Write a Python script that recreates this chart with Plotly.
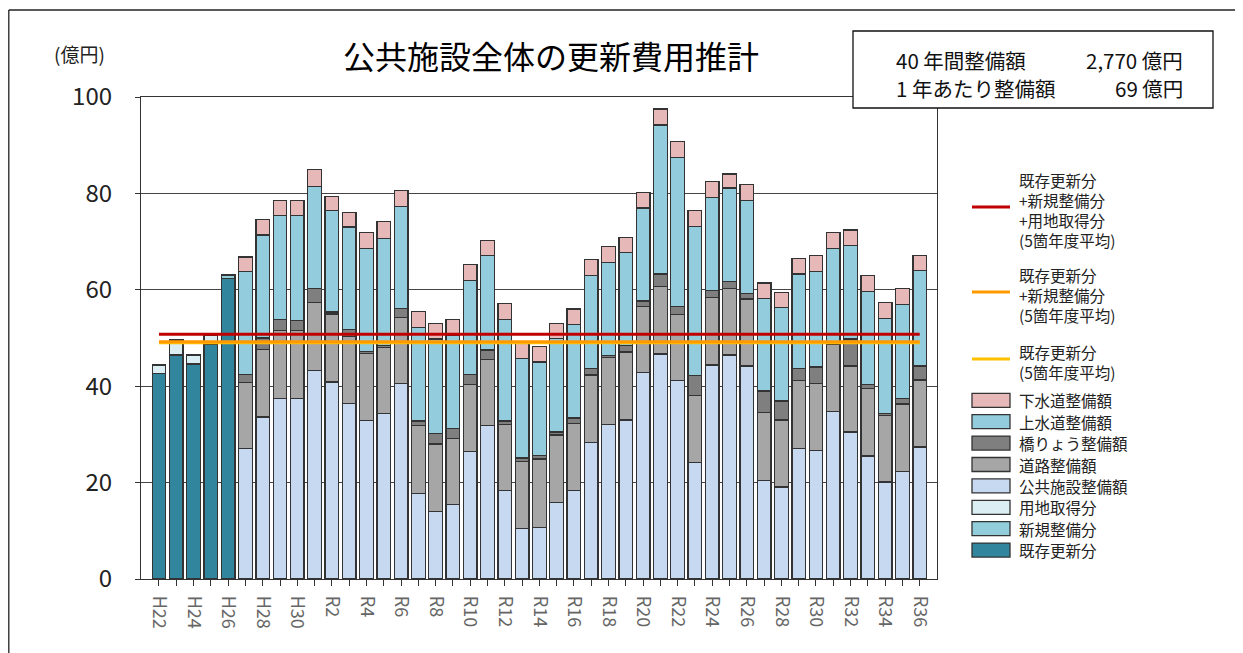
import plotly.graph_objects as go

# ---------------- data ----------------
categories = ["H22", "H23", "H24", "H25", "H26", "H27", "H28", "H29", "H30", "R1",
              "R2", "R3", "R4", "R5", "R6", "R7", "R8", "R9", "R10", "R11",
              "R12", "R13", "R14", "R15", "R16", "R17", "R18", "R19", "R20", "R21",
              "R22", "R23", "R24", "R25", "R26", "R27", "R28", "R29", "R30", "R31",
              "R32", "R33", "R34", "R35", "R36"]
tick_labels = [c if i % 2 == 0 else "" for i, c in enumerate(categories)]

N = None
existing = [42.6, 46.5, 44.6, 48.7, 62.4] + [N] * 40           # 既存更新分
new_build = [N, N, N, N, 0.7] + [N] * 40                         # 新規整備分
land = [1.8, 3.1, 1.9, 1.8, N] + [N] * 40                        # 用地取得分
public_fac = [N] * 5 + [27.1, 33.6, 37.4, 37.4, 43.3, 40.9, 36.4, 32.9, 34.3, 40.6,
                        17.7, 14.0, 15.4, 26.4, 31.8, 18.3, 10.5, 10.7, 15.9, 18.3,
                        28.3, 32.0, 33.0, 42.8, 46.7, 41.2, 24.2, 44.4, 46.5, 44.2,
                        20.4, 19.1, 27.1, 26.7, 34.8, 30.5, 25.5, 20.1, 22.3, 27.4]   # 公共施設整備額
road = [N] * 5 + [13.7, 14.0, 14.1, 14.1, 14.1, 14.1, 13.9, 13.9, 13.7, 13.7,
                  14.1, 14.0, 13.7, 14.0, 13.7, 13.8, 13.9, 14.2, 14.0, 14.0,
                  14.0, 14.0, 14.1, 13.8, 14.0, 13.7, 13.8, 14.0, 13.7, 13.9,
                  14.1, 13.9, 14.1, 13.9, 13.9, 13.7, 14.0, 13.8, 14.0, 13.9]        # 道路整備額
bridge = [N] * 5 + [1.7, 2.4, 2.4, 2.2, 2.9, 0.4, 1.4, 0.4, 0.5, 1.8,
                    1.0, 2.2, 2.1, 2.1, 2.0, 0.7, 0.7, 0.7, 0.6, 1.1,
                    1.4, 0.3, 1.4, 1.1, 2.6, 1.7, 4.2, 1.4, 1.5, 1.2,
                    4.5, 3.9, 2.5, 3.4, 0.2, 5.6, 0.8, 0.4, 1.2, 2.9]              # 橋りょう整備額
water = [N] * 5 + [21.3, 21.4, 21.5, 21.7, 21.2, 21.0, 21.3, 21.4, 22.2, 21.2,
                   19.4, 19.6, 19.3, 19.4, 19.6, 21.1, 20.7, 19.4, 19.4, 19.4,
                   19.3, 19.4, 19.3, 19.3, 30.9, 30.9, 31.0, 19.4, 19.4, 19.3,
                   19.2, 19.4, 19.6, 19.8, 19.7, 19.4, 19.4, 19.8, 19.5, 19.8]      # 上水道整備額
sewer = [N] * 5 + [3.0, 3.2, 3.2, 3.2, 3.4, 3.0, 3.1, 3.3, 3.4, 3.3,
                   3.3, 3.2, 3.4, 3.4, 3.2, 3.2, 3.1, 3.2, 3.1, 3.2,
                   3.3, 3.3, 3.1, 3.2, 3.3, 3.2, 3.2, 3.2, 2.9, 3.2,
                   3.2, 3.2, 3.2, 3.3, 3.3, 3.2, 3.3, 3.3, 3.3, 3.1]               # 下水道整備額

avg_all = 50.8       # 既存更新分+新規整備分+用地取得分 (5箇年度平均)
avg_exist_new = 49.2 # 既存更新分+新規整備分 (5箇年度平均)
avg_exist = 49.0     # 既存更新分 (5箇年度平均)

# stacking order bottom -> top
bar_series = [
    ("既存更新分", existing, "#31859C"),
    ("新規整備分", new_build, "#92CDDC"),
    ("用地取得分", land, "#DAEEF3"),
    ("公共施設整備額", public_fac, "#C6D9F1"),
    ("道路整備額", road, "#A6A6A6"),
    ("橋りょう整備額", bridge, "#7F7F7F"),
    ("上水道整備額", water, "#93CDDD"),
    ("下水道整備額", sewer, "#E6B9B8"),
]
line_series = [
    (["既存更新分", "+新規整備分", "+用地取得分", "(5箇年度平均)"], avg_all, "#C00000"),
    (["既存更新分", "+新規整備分", "(5箇年度平均)"], avg_exist_new, "#FF9900"),
    (["既存更新分", "(5箇年度平均)"], avg_exist, "#FFC000"),
]

FONT = "Noto Sans CJK JP"
OFF = 8                       # page body margin offset
W, H = 1243 - OFF, 653 - OFF
L, R, T, B = 141, 937, 97, 579   # plot area in page pixels


def px(x):
    return (x - L) / (R - L)


def py(y):
    return (B - y) / (B - T)


fig = go.Figure()
for name, vals, col in bar_series:
    fig.add_trace(go.Bar(x=categories, y=vals, name=name, marker_color=col,
                         marker_line=dict(color="#333333", width=1.3), showlegend=False))

# draw yellow first, then orange, then red
for lines, val, col in reversed(line_series):
    fig.add_trace(go.Scatter(x=categories, y=[val] * len(categories), mode="lines",
                             line=dict(color=col, width=3), showlegend=False, hoverinfo="skip"))

shapes = []
annotations = []

# outer frame (left + top)
shapes.append(dict(type="line", xref="paper", yref="paper", x0=px(8.8), x1=px(8.8), y0=py(10), y1=py(653),
                   line=dict(color="#222", width=1.3)))
shapes.append(dict(type="line", xref="paper", yref="paper", x0=px(8.8), x1=px(1243), y0=py(10), y1=py(10),
                   line=dict(color="#222", width=1.3)))

# summary box
shapes.append(dict(type="rect", xref="paper", yref="paper", x0=px(853), x1=px(1213), y0=py(31), y1=py(108),
                   line=dict(color="#111", width=1.3), fillcolor="white", layer="above"))
box_rows = [("40 年間整備額", "2,770 億円", 60), ("1 年あたり整備額", "69 億円", 88)]
for left_t, right_t, yy in box_rows:
    annotations.append(dict(xref="paper", yref="paper", x=px(894), y=py(yy), text=left_t, showarrow=False,
                            xanchor="left", yanchor="middle", font=dict(family=FONT, size=20.5, color="#111")))
    annotations.append(dict(xref="paper", yref="paper", x=px(1185), y=py(yy), text=right_t, showarrow=False,
                            xanchor="right", yanchor="middle", font=dict(family=FONT, size=20.5, color="#111")))

# title and unit
annotations.append(dict(xref="paper", yref="paper", x=px(551), y=py(55), text="公共施設全体の更新費用推計",
                        showarrow=False, xanchor="center", yanchor="middle",
                        font=dict(family=FONT, size=32, color="#000")))
annotations.append(dict(xref="paper", yref="paper", x=px(52), y=py(53), text="(億円)",
                        showarrow=False, xanchor="left", yanchor="middle",
                        font=dict(family=FONT, size=19, color="#222")))

# custom legend: line entries (multi-line text)
line_centers = [210, 295, 362]
for (lines, val, col), cy in zip(line_series, line_centers):
    annotations.append(dict(xref="paper", yref="paper", x=px(1017), y=py(cy), text="<br>".join(lines),
                            showarrow=False, xanchor="left", yanchor="middle", align="left",
                            font=dict(family=FONT, size=15.5, color="#222")))
    ly = cy - 3
    shapes.append(dict(type="line", xref="paper", yref="paper", x0=px(972), x1=px(1010), y0=py(ly), y1=py(ly),
                       line=dict(color=col, width=3)))

# custom legend: bar entries (top of stack first)
for i, (name, vals, col) in enumerate(reversed(bar_series)):
    cy = 400.3 + i * 21.4
    shapes.append(dict(type="rect", xref="paper", yref="paper", x0=px(972), x1=px(1010),
                       y0=py(cy - 7), y1=py(cy + 7), fillcolor=col, line=dict(color="#333", width=1.3)))
    annotations.append(dict(xref="paper", yref="paper", x=px(1017), y=py(cy), text=name,
                            showarrow=False, xanchor="left", yanchor="middle",
                            font=dict(family=FONT, size=15.5, color="#222")))

fig.update_layout(
    width=W, height=H,
    margin=dict(l=L - OFF, r=W - (R - OFF), t=T - OFF, b=H - (B - OFF), pad=0),
    paper_bgcolor="white", plot_bgcolor="white",
    barmode="stack", bargap=0.21,
    font=dict(family=FONT),
    shapes=shapes, annotations=annotations,
    showlegend=False,
)
fig.update_xaxes(type="category", range=[-1.04, 45.0], tickmode="array", tickvals=categories,
                 ticktext=tick_labels, tickangle=90, ticks="outside", ticklen=6, tickcolor="#333",
                 showline=True, linecolor="#333", linewidth=1.3, mirror=True, showgrid=False,
                 ticklabelstandoff=6,
                 tickfont=dict(family=FONT, size=18, color="#666"))
fig.update_yaxes(range=[0, 100], dtick=20, tick0=0, ticks="outside", ticklen=5, tickcolor="#333",
                 showline=True, linecolor="#333", linewidth=1.3, mirror=True,
                 showgrid=True, gridcolor="#444", gridwidth=1, zeroline=False,
                 ticklabelstandoff=18,
                 tickfont=dict(family=FONT, size=24, color="#222"))

fig.write_html("out.html")
